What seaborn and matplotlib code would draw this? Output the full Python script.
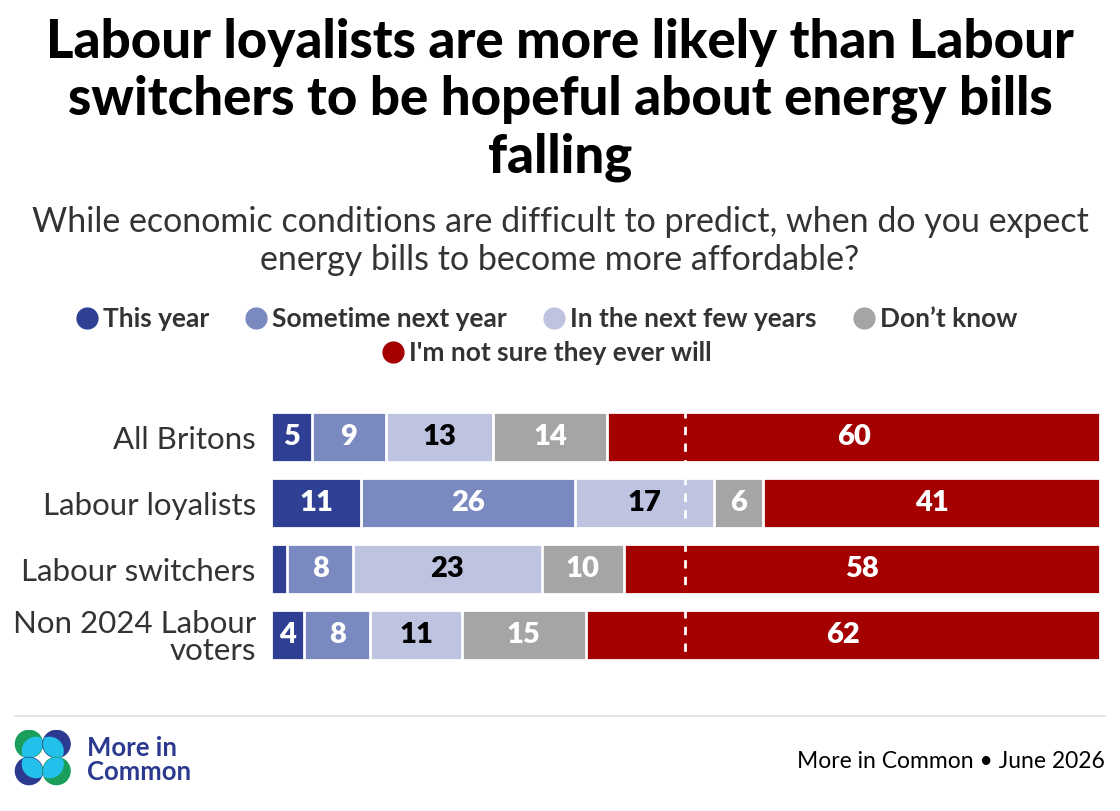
import matplotlib
matplotlib.use("Agg")
import matplotlib.pyplot as plt
from matplotlib.lines import Line2D
from matplotlib.patches import Circle
import numpy as np
import pandas as pd
import seaborn as sns

# data
groups = ["All Britons", "Labour loyalists", "Labour switchers", "Non 2024 Labour\nvoters"]
answers = ["This year", "Sometime next year", "In the next few years", "Don’t know",
           "I'm not sure they ever will"]
this_year = [5, 11, 2, 4]
next_year = [9, 26, 8, 8]
few_years = [13, 17, 23, 11]
dont_know = [14, 6, 10, 15]
never = [60, 41, 58, 62]

COLORS = ["#2E3F94", "#7A89BF", "#BEC3E0", "#A5A5A5", "#A50000"]
LABEL_COLORS = ["white", "white", "black", "white", "white"]
TEXT = "#333333"

sns.set_theme(style="white")
plt.rcParams["font.family"] = ["Lato", "DejaVu Sans"]

values = pd.DataFrame(dict(zip(answers, [this_year, next_year, few_years, dont_know, never])),
                      index=groups)
shares = values.div(values.sum(axis=1), axis=0) * 100
cum = shares.cumsum(axis=1)

fig = plt.figure(figsize=(11.2, 8.11), dpi=100)
ax = fig.add_axes([0.242, 0.176, 0.740, 0.3255])

# stacked bars: draw the cumulative totals from the widest down
for i in range(len(answers) - 1, -1, -1):
    frame = pd.DataFrame({"group": groups, "x": cum.iloc[:, i].values})
    sns.barplot(data=frame, x="x", y="group", orient="h", color=COLORS[i], saturation=1,
                width=0.76, edgecolor="white", linewidth=2, ax=ax)

ax.axvline(50, color="white", linestyle=(0, (3, 3)), linewidth=2, zorder=5)

for r, g in enumerate(groups):
    start = 0
    for i, a in enumerate(answers):
        w = shares.loc[g, a]
        if values.loc[g, a] >= 3:
            ax.text(start + w / 2, r, str(values.loc[g, a]), ha="center", va="center",
                    color=LABEL_COLORS[i], fontsize=21, fontweight="heavy", zorder=6)
        start += w

ax.set_xlim(0, 100)
ax.set_xlabel("")
ax.set_ylabel("")
ax.set_xticks([])
ax.tick_params(axis="y", length=0, pad=11, labelsize=22.5, labelcolor=TEXT)
for lab in ax.get_yticklabels():
    lab.set_linespacing(0.95)
sns.despine(ax=ax, left=True, bottom=True)

fig.text(0.5, 1 - 18 / 811,
         "Labour loyalists are more likely than Labour\nswitchers to be hopeful about energy bills\nfalling",
         ha="center", va="top", fontsize=38, fontweight="black", color="black", linespacing=1.2)
fig.text(0.5, 1 - 206 / 811,
         "While economic conditions are difficult to predict, when do you expect\nenergy bills to become more affordable?",
         ha="center", va="top", fontsize=24.5, color=TEXT, linespacing=1.25)

handles = [Line2D([], [], marker="o", linestyle="", markersize=15, color=c) for c in COLORS]
leg_kw = dict(frameon=False, handletextpad=0.1, columnspacing=1.3, handlelength=1.0,
              prop={"size": 19, "weight": "bold"}, labelcolor=TEXT)
fig.legend(handles[:4], answers[:4], loc="center", bbox_to_anchor=(0.487, 1 - 319 / 811), ncol=4, **leg_kw)
fig.legend(handles[4:], answers[4:], loc="center", bbox_to_anchor=(0.487, 1 - 353 / 811), ncol=1, **leg_kw)

# footer
fig.add_artist(Line2D([15 / 1120, 1105 / 1120], [1 - 716 / 811] * 2, color="#DDDDDD", linewidth=1.2))
fig.text(1105 / 1120, 1 - 762 / 811, "More in Common • June 2026", ha="right", va="center",
         fontsize=16.5, color="black")
fig.text(87 / 1120, 1 - 760 / 811, "More in\nCommon", ha="left", va="center", fontsize=18.5,
         fontweight="bold", color="#2B3A8F", linespacing=1.0)

logo = fig.add_axes([13 / 1120, 1 - 790 / 811, 60 / 1120, 60 / 811])
logo.set_xlim(0, 60)
logo.set_ylim(0, 60)
logo.set_aspect("equal")
logo.axis("off")
quads = [((16, 46), "#1A9E5C", (1, -1)), ((43.5, 46), "#2B3A8F", (-1, -1)),
         ((16, 19), "#2B3A8F", (1, 1)), ((43.5, 19), "#1A9E5C", (-1, 1))]
for (cx, cy), col, (dx, dy) in quads:
    outer = Circle((cx, cy), 13.6, color=col)
    logo.add_patch(outer)
    inner = Circle((cx + dx * 7, cy + dy * 7), 13.6, color="#22C0EA")
    logo.add_patch(inner)
    inner.set_clip_path(outer)

fig.savefig("out.png", dpi=100)
